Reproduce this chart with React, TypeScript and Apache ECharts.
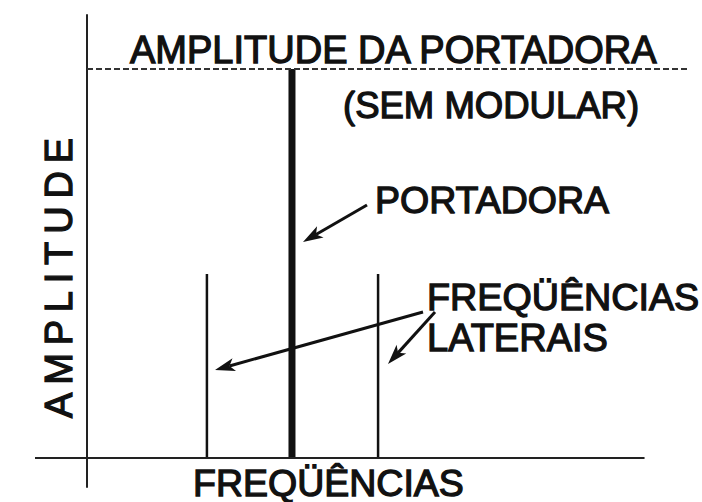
import React, { useEffect, useRef } from "react";
import * as echarts from "echarts";

// ---- data ----
const spectrumKinds = ["LATERAL", "PORTADORA", "LATERAL"];
const frequencies = [5.85, 10, 14.2];
const amplitudes = [0.473, 1, 0.473];
const carrierAmplitude = 1;
const xRange = [-2.537, 29.32];
const yRange = [-0.0746, 1.1388];
const freqAxisEnd = 27.2;

// ---- texts ----
const titleTop = "AMPLITUDE DA PORTADORA";
const titleSub = "(SEM MODULAR)";
const carrierLabel = "PORTADORA";
const sideLabel1 = "FREQÜÊNCIAS";
const sideLabel2 = "LATERAIS";
const xAxisName = "FREQÜÊNCIAS";
const yAxisName = "AMPLITUDE";

const INK = "#111";
const FONT = '"Liberation Sans", Arial, sans-serif';

function arrow(x1: number, y1: number, x2: number, y2: number, headLen = 20, headW = 13) {
  const dx = x2 - x1, dy = y2 - y1;
  const len = Math.hypot(dx, dy);
  const ux = dx / len, uy = dy / len;
  const nx = -uy, ny = ux;
  const bx = x2 - ux * headLen, by = y2 - uy * headLen;
  const ix = x2 - ux * headLen * 0.75, iy = y2 - uy * headLen * 0.75;
  return [
    {
      type: "line",
      shape: { x1, y1, x2: ix, y2: iy },
      style: { stroke: INK, lineWidth: 3 },
      silent: true,
    },
    {
      type: "polygon",
      shape: {
        points: [
          [x2, y2],
          [bx + (nx * headW) / 2, by + (ny * headW) / 2],
          [ix, iy],
          [bx - (nx * headW) / 2, by - (ny * headW) / 2],
        ],
      },
      style: { fill: INK },
      silent: true,
    },
  ];
}

function txt(text: string, x: number, y: number, size: number, align = "left") {
  return {
    type: "text",
    x,
    y,
    silent: true,
    style: {
      text,
      fill: INK,
      stroke: INK,
      lineWidth: 1.3,
      fontSize: size,
      fontFamily: FONT,
      align,
      verticalAlign: "middle",
    },
  };
}

function spacedVertical(text: string, cx: number, bottom: number, length: number, size: number) {
  const canvas = document.createElement("canvas");
  const ctx = canvas.getContext("2d")!;
  ctx.font = `${size}px ${FONT}`;
  const chars = text.split("");
  const widths = chars.map((c) => ctx.measureText(c).width);
  const sum = widths.reduce((a, b) => a + b, 0);
  const gap = (length - sum) / (chars.length - 1);
  let pos = 0;
  const children = chars.map((c, i) => {
    const el = txt(c, pos, 0, size, "left");
    pos += widths[i] + gap;
    return el;
  });
  return { type: "group", x: cx, y: bottom, rotation: Math.PI / 2, children };
}

export default function App() {
  const ref = useRef<HTMLDivElement>(null);
  useEffect(() => {
    if (!ref.current) return;
    const chart = echarts.init(ref.current, null, { renderer: "svg" });
    const data = frequencies.map((f, i) => [f, amplitudes[i]]);
    chart.setOption({
      animation: false,
      backgroundColor: "#fff",
      grid: { left: 35, right: 14, top: 15, bottom: 15 },
      xAxis: {
        type: "value",
        min: xRange[0],
        max: xRange[1],
        axisLine: { show: false },
        axisTick: { show: false },
        axisLabel: { show: false },
        splitLine: { show: false },
      },
      yAxis: {
        type: "value",
        min: yRange[0],
        max: yRange[1],
        axisLine: { show: true, onZero: true, lineStyle: { color: "#222", width: 2 } },
        axisTick: { show: false },
        axisLabel: { show: false },
        splitLine: { show: false },
      },
      series: [
        {
          type: "custom",
          silent: true,
          data,
          renderItem: (params: any, api: any) => {
            const x = api.value(0);
            const a = api.value(1);
            const p0 = api.coord([x, 0]);
            const p1 = api.coord([x, a]);
            const kind = spectrumKinds[params.dataIndex];
            return {
              type: "line",
              shape: { x1: p0[0], y1: p0[1], x2: p1[0], y2: p1[1] },
              style: { stroke: INK, lineWidth: kind === "PORTADORA" ? 7 : 2.5 },
            };
          },
          markLine: {
            silent: true,
            symbol: ["none", "none"],
            label: { show: false },
            emphasis: { disabled: true },
            data: [
              [
                { coord: [xRange[0], 0], lineStyle: { color: "#222", width: 2, type: "solid" } },
                { coord: [freqAxisEnd, 0] },
              ],
              [
                { coord: [0, carrierAmplitude], lineStyle: { color: "#333", width: 2, type: [6, 3] } },
                { coord: [xRange[1], carrierAmplitude] },
              ],
            ],
          },
        },
      ],
      graphic: [
        txt(titleTop, 130, 50, 38),
        txt(titleSub, 343, 105, 36.5),
        txt(carrierLabel, 375, 200, 37.5),
        txt(sideLabel1, 427, 297, 37.7),
        txt(sideLabel2, 427, 338, 38),
        txt(xAxisName, 193, 482.5, 37.5),
        spacedVertical(yAxisName, 59, 418, 280, 38),
        ...arrow(367, 205, 303, 242),
        ...arrow(423, 312, 215, 370),
        ...arrow(435, 312, 388, 364),
      ],
    });
    return () => chart.dispose();
  }, []);
  return (
    <div
      ref={ref}
      style={{ position: "fixed", left: 0, top: 0, width: 702, height: 502, background: "#fff" }}
    />
  );
}
